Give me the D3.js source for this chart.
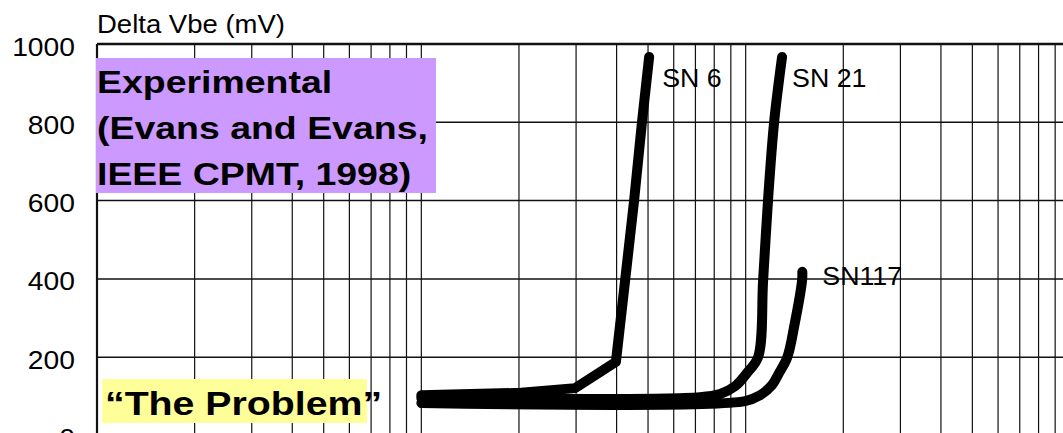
<!DOCTYPE html>
<html>
<head>
<meta charset="utf-8">
<script src="https://cdn.jsdelivr.net/npm/d3@7"></script>
<style>
  html, body { margin: 0; padding: 0; background: #fff; overflow: hidden; }
  text { font-family: "Liberation Sans", Arial, sans-serif; }
</style>
</head>
<body>
<div id="wrapper"></div>
<script>
// values (x = cycles, log axis; y = delta Vbe in mV)
const yTicks = [0, 200, 400, 600, 800, 1000]
const xGrid = [1, 2, 3, 4, 5, 6, 7, 8, 9, 10, 20, 30, 40, 50, 60, 70, 80, 90, 100, 200, 300, 400, 500, 600, 700, 800, 900, 1000]

const seriesNames = ["SN 6", "SN 21", "SN117"]
const sn6Cycles = [10, 20.3, 29.8, 39.8, 42.5, 45.3, 47.9, 50.4]
const sn6Vbe = [103, 109, 121, 188, 397, 601, 801, 967]
const sn21Cycles = [10, 72.3, 83.4, 92.8, 101, 109.2, 113.2, 117.2, 122.4, 129.5]
const sn21Vbe = [96, 98, 106, 126, 160, 200, 397, 601, 801, 967]
const sn117Cycles = [10, 99.6, 110.8, 120.6, 126.8, 134.4, 141, 149.3, 149.5]
const sn117Vbe = [83, 88, 103, 129, 160, 200, 277, 397, 418]

const yLabel = "Delta Vbe (mV)"
const sourceLines = ["Experimental", "(Evans and Evans,", "IEEE CPMT, 1998)"]
const problemText = "\u201CThe Problem\u201D"

function drawChart() {
    const dimensions = {
        width: 1063,
        height: 433,
        margin: { top: 44, left: 96 },
    }

    const wrapper = d3.select("#wrapper")
        .append("svg")
        .attr("width", dimensions.width)
        .attr("height", dimensions.height)

    // the scan is a bit wider than true type, so text gets stretched
    const stretch = (sel, k) => sel.each(function () {
        const w = this.getComputedTextLength()
        d3.select(this).attr("textLength", w * k).attr("lengthAdjust", "spacingAndGlyphs")
    })

    const xScaler = d3.scaleLog()
        .domain([1, 1000])
        .range([97, 1070])

    const yScaler = d3.scaleLinear()
        .domain([0, 1000])
        .range([435.5, 44])

    // grid
    const grid = wrapper.append("g")
    grid.selectAll("line.v")
        .data(xGrid)
        .enter()
        .append("line")
        .attr("x1", d => xScaler(d))
        .attr("x2", d => xScaler(d))
        .attr("y1", yScaler(1000))
        .attr("y2", dimensions.height)
        .attr("stroke", "#111")
        .attr("stroke-width", d => d == 1 ? 2.2 : 1.2)

    grid.selectAll("line.h")
        .data(yTicks)
        .enter()
        .append("line")
        .attr("x1", xScaler(1))
        .attr("x2", dimensions.width)
        .attr("y1", d => yScaler(d))
        .attr("y2", d => yScaler(d))
        .attr("stroke", "#111")
        .attr("stroke-width", d => d == 1000 ? 2.4 : 1.5)

    // y axis labels
    const yAxisGen = d3.axisLeft(yScaler)
        .tickValues(yTicks)
        .tickFormat(d3.format("d"))
        .tickSize(0)
        .tickPadding(21)
    const yAxis = wrapper.append("g")
        .attr("transform", `translate(${dimensions.margin.left},0)`)
        .call(yAxisGen)
    yAxis.select(".domain").remove()
    yAxis.selectAll("text")
        .attr("font-size", 25)
        .attr("font-family", "Liberation Sans, Arial, sans-serif")
        .attr("fill", "#000")
        .attr("dy", 11)
        .call(stretch, 1.13)

    wrapper.append("text")
        .attr("x", 97)
        .attr("y", 33)
        .attr("font-size", 25)
        .text(yLabel)
        .call(stretch, 1.1)

    // curves
    const series = [
        { name: seriesNames[0], x: sn6Cycles, y: sn6Vbe, curve: d3.curveLinear, dx: 13, dy: 30 },
        { name: seriesNames[1], x: sn21Cycles, y: sn21Vbe, curve: d3.curveCatmullRom.alpha(0.5), dx: 10, dy: 30 },
        { name: seriesNames[2], x: sn117Cycles, y: sn117Vbe, curve: d3.curveCatmullRom.alpha(0.5), dx: 20, dy: 13 },
    ]

    const curves = wrapper.append("g")
    series.forEach(s => {
        const pts = s.x.map((c, i) => [c, s.y[i]])
        const lineGen = d3.line()
            .x(d => xScaler(d[0]))
            .y(d => yScaler(d[1]))
            .curve(s.curve)
        curves.append("path")
            .attr("d", lineGen(pts))
            .attr("fill", "none")
            .attr("stroke", "#000")
            .attr("stroke-width", 10)
            .attr("stroke-linecap", "round")
            .attr("stroke-linejoin", "round")

        const last = pts[pts.length - 1]
        curves.append("text")
            .attr("x", xScaler(last[0]) + s.dx)
            .attr("y", yScaler(last[1]) + s.dy)
            .attr("font-size", 25)
            .attr("fill", "#000")
            .text(s.name)
            .call(stretch, 1.07)
    })

    // purple source box
    wrapper.append("rect")
        .attr("x", 96)
        .attr("y", 58)
        .attr("width", 340)
        .attr("height", 135)
        .attr("fill", "#cc99ff")
    wrapper.append("g")
        .selectAll("text")
        .data(sourceLines)
        .enter()
        .append("text")
        .attr("x", 97)
        .attr("y", (d, i) => 93 + i * 46)
        .attr("font-size", 32)
        .attr("font-weight", "bold")
        .attr("fill", "#000")
        .text(d => d)
        .call(stretch, 1.17)

    // yellow box
    wrapper.append("rect")
        .attr("x", 102)
        .attr("y", 379)
        .attr("width", 265)
        .attr("height", 44)
        .attr("fill", "#ffff99")
    wrapper.append("text")
        .attr("x", 105)
        .attr("y", 415)
        .attr("font-size", 33)
        .attr("font-weight", "bold")
        .attr("fill", "#000")
        .text(problemText)
        .call(stretch, 1.19)
}

drawChart()
</script>
</body>
</html>
